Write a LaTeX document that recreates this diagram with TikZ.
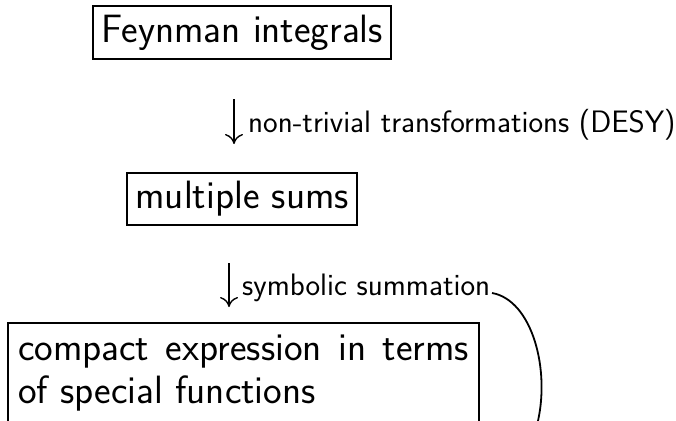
\documentclass[tikz,border=0pt]{standalone}
\usepackage{fontspec}
\usetikzlibrary{arrows.meta}
\begin{document}
\begin{tikzpicture}[
  x=1pt, y=-1pt,
  bigtext/.style={font=\sffamily\fontsize{39.5}{43}\selectfont},
  smalltext/.style={font=\sffamily\fontsize{31}{36}\selectfont},
  stagebox/.style={draw, line width=2pt, bigtext, inner sep=8.5pt, outer sep=0pt,
    text height=27pt, text depth=8pt, anchor=base west},
  steplabel/.style={smalltext, inner sep=0pt, anchor=base west},
  flowarrow/.style={line width=1.4pt,
    -{Computer Modern Rightarrow[length=10pt,width=18pt,line width=1.4pt]}},
]
\useasboundingbox (0,0) rectangle (676,420);

% the three stages
\node[stagebox] (feyn) at (93,42) {Feynman integrals};
\node[stagebox] (sums) at (127,208) {multiple sums};
\node[draw, line width=2pt, bigtext, outer sep=0pt, inner sep=10pt,
      text width=451pt, align=justify, anchor=north west] (compact) at (8,323)
  {\rule{0pt}{27pt}compact expression in terms of special functions\rule[-30pt]{0pt}{0pt}};

% step labels
\node[steplabel] (lab1) at (248,132) {non-trivial transformations (DESY)};
\node[steplabel] (lab2) at (242,295) {symbolic summation};

% downward arrows between stages
\coordinate (a1s) at (234,99);
\coordinate (a1e) at (234,144);
\coordinate (a2s) at (229,263);
\coordinate (a2e) at (229,307);
\draw[flowarrow] (a1s) -- (a1e);
\draw[flowarrow] (a2s) -- (a2e);

% curved line leaving the summation label
\coordinate (cs) at (492,293);
\coordinate (ce) at (537,425);
\draw[line width=1.8pt] (cs) .. controls (532,300) and (551,370) .. (ce);
\end{tikzpicture}
\end{document}
